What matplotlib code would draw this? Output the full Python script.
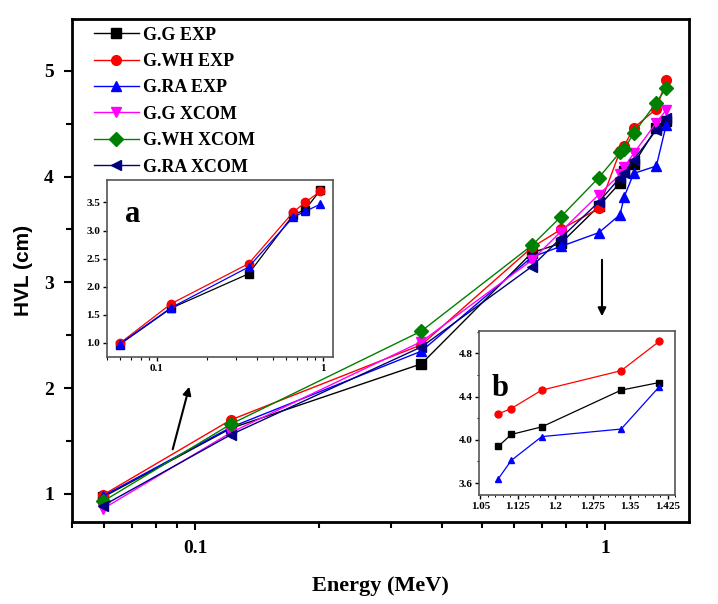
import matplotlib
matplotlib.use("Agg")
import matplotlib.pyplot as plt
from matplotlib.ticker import FixedLocator, NullFormatter, MultipleLocator, AutoMinorLocator, LogLocator

energy = [0.0595, 0.122, 0.356, 0.662, 0.779, 0.964, 1.086, 1.112, 1.173, 1.332, 1.408]

gg_exp   = [0.97, 1.62, 2.23, 3.28, 3.37, 3.72, 3.94, 4.05, 4.12, 4.46, 4.53]
gwh_exp  = [0.99, 1.70, 2.41, 3.33, 3.50, 3.70, 4.24, 4.29, 4.46, 4.64, 4.91]
gra_exp  = [0.98, 1.63, 2.35, 3.24, 3.34, 3.47, 3.64, 3.81, 4.03, 4.10, 4.49]
gg_xcom  = [0.86, 1.58, 2.44, 3.21, 3.48, 3.83, 4.02, 4.09, 4.22, 4.51, 4.63]
gwh_xcom = [0.93, 1.66, 2.54, 3.35, 3.62, 3.99, 4.23, 4.26, 4.41, 4.70, 4.84]
gra_xcom = [0.89, 1.56, 2.39, 3.15, 3.42, 3.76, 3.99, 4.03, 4.16, 4.44, 4.55]

labels = ["G.G EXP", "G.WH EXP", "G.RA EXP", "G.G XCOM", "G.WH XCOM", "G.RA XCOM"]
series = [gg_exp, gwh_exp, gra_exp, gg_xcom, gwh_xcom, gra_xcom]
colors = ["black", "red", "blue", "magenta", "green", "navy"]
markers = ["s", "o", "^", "v", "D", "<"]

serif = "Liberation Serif"

fig = plt.figure(figsize=(7.18, 6.04), dpi=100)
ax = fig.add_axes([0.1003, 0.1358, 0.8593, 0.8328])
for y, c, m, l in zip(series, colors, markers, labels):
    ax.plot(energy, y, color=c, marker=m, markersize=7, lw=1.0, label=l)
ax.set_xscale("log")
ax.set_xlim(0.05, 1.6)
ax.set_ylim(0.735, 5.49)
ax.xaxis.set_major_locator(FixedLocator([0.1, 1]))
ax.xaxis.set_minor_locator(LogLocator(base=10, subs=range(2, 10)))
ax.xaxis.set_minor_formatter(NullFormatter())
ax.set_xticklabels(["0.1", "1"])
ax.yaxis.set_major_locator(MultipleLocator(1))
ax.yaxis.set_minor_locator(MultipleLocator(0.5))
ax.tick_params(which="major", direction="out", length=6, width=1.5, pad=7)
ax.tick_params(which="minor", direction="out", length=4, width=1.5)
for lab in ax.get_xticklabels() + ax.get_yticklabels():
    lab.set_fontfamily(serif)
    lab.set_fontweight("bold")
    lab.set_fontsize(14)
for s in ax.spines.values():
    s.set_linewidth(2)
ax.set_xlabel("Energy (MeV)", fontfamily=serif, fontweight="bold", fontsize=16, labelpad=14)
ax.set_ylabel("HVL (cm)", fontfamily="Liberation Sans", fontweight="bold", fontsize=15, labelpad=8)
ax.legend(loc="upper left", bbox_to_anchor=(0.015, 1.01), frameon=False,
          prop={"family": serif, "weight": "bold", "size": 13},
          handlelength=2.5, handletextpad=0.2, labelspacing=0.52, borderaxespad=0.3)

# inset a
exp_series = [gg_exp, gwh_exp, gra_exp]
exp_colors = ["black", "red", "blue"]
exp_markers = ["s", "o", "^"]
axa = fig.add_axes([0.149, 0.409, 0.315, 0.293])
for y, c, m in zip(exp_series, exp_colors, exp_markers):
    axa.plot(energy[:6], y[:6], color=c, marker=m, markersize=6, lw=0.9)
axa.set_xscale("log")
axa.set_xlim(0.05, 1.15)
axa.set_ylim(0.75, 3.9)
axa.xaxis.set_major_locator(FixedLocator([0.1, 1]))
axa.xaxis.set_minor_locator(LogLocator(base=10, subs=range(2, 10)))
axa.xaxis.set_minor_formatter(NullFormatter())
axa.set_xticklabels(["0.1", "1"])
axa.set_yticks([1.0, 1.5, 2.0, 2.5, 3.0, 3.5])
axa.set_yticklabels(["1.0", "1.5", "2.0", "2.5", "3.0", "3.5"])
axa.tick_params(which="major", direction="out", length=3, width=1, labelsize=8, pad=2)
axa.tick_params(which="minor", direction="out", length=2, width=0.8)
for lab in axa.get_xticklabels() + axa.get_yticklabels():
    lab.set_fontfamily(serif)
    lab.set_fontweight("bold")
for s in axa.spines.values():
    s.set_linewidth(1.2)
    s.set_color("#555555")
axa.text(0.08, 0.76, "a", transform=axa.transAxes, fontfamily=serif, fontweight="bold", fontsize=22)

# inset b
axb = fig.add_axes([0.6676, 0.1805, 0.2726, 0.272])
for y, c, m in zip(exp_series, exp_colors, exp_markers):
    axb.plot(energy[6:], y[6:], color=c, marker=m, markersize=5, lw=0.9)
axb.set_xlim(1.048, 1.44)
axb.set_ylim(3.49, 5.01)
axb.set_xticks([1.05, 1.125, 1.2, 1.275, 1.35, 1.425])
axb.set_xticklabels(["1.05", "1.125", "1.2", "1.275", "1.35", "1.425"])
axb.xaxis.set_minor_locator(AutoMinorLocator(5))
axb.set_yticks([3.6, 4.0, 4.4, 4.8])
axb.set_yticklabels(["3.6", "4.0", "4.4", "4.8"])
axb.yaxis.set_minor_locator(AutoMinorLocator(2))
axb.tick_params(which="major", direction="out", length=3, width=1, labelsize=8, pad=2)
axb.tick_params(which="minor", direction="out", length=1.5, width=0.7)
for lab in axb.get_xticklabels() + axb.get_yticklabels():
    lab.set_fontfamily(serif)
    lab.set_fontweight("bold")
for s in axb.spines.values():
    s.set_linewidth(1.2)
    s.set_color("#555555")
axb.text(0.06, 0.6, "b", transform=axb.transAxes, fontfamily=serif, fontweight="bold", fontsize=22)

# arrows (figure pixel coords -> fraction)
def fp(x, y):
    return (x / 718, 1 - y / 604)

fig.add_artist(matplotlib.patches.FancyArrowPatch(fp(172, 452), fp(190, 384), transform=fig.transFigure,
               arrowstyle="-|>", mutation_scale=12, color="black", lw=1.5))
fig.add_artist(matplotlib.patches.FancyArrowPatch(fp(602, 257), fp(602, 319), transform=fig.transFigure,
               arrowstyle="-|>", mutation_scale=12, color="black", lw=1.5))

fig.savefig("out.png", dpi=100)
